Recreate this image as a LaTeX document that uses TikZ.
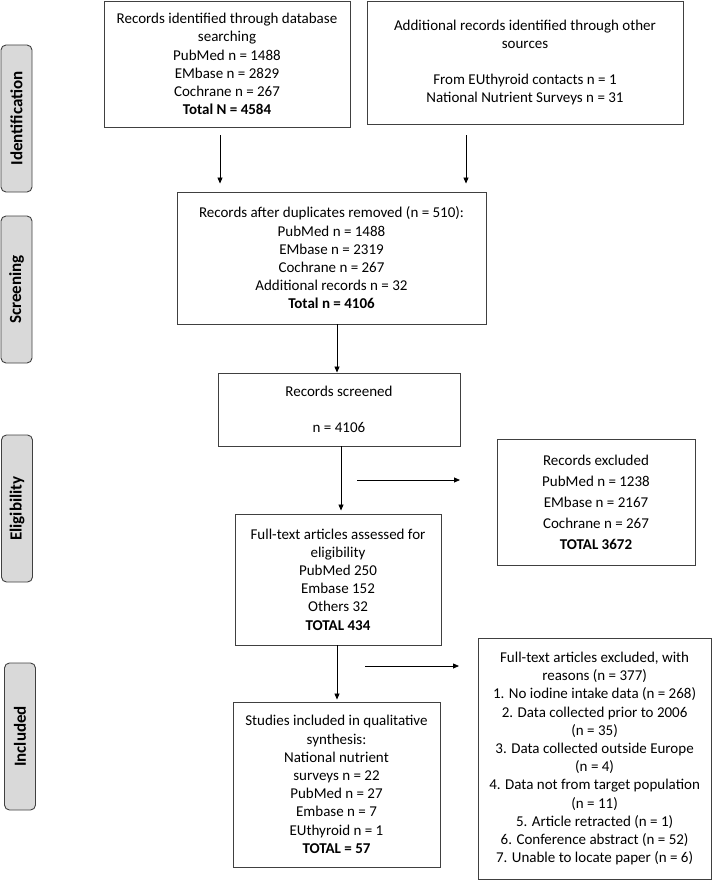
\documentclass[tikz,border=0pt]{standalone}
\usepackage{fontspec}
\setmainfont{Carlito}
\usetikzlibrary{arrows.meta}
\begin{document}
\begin{tikzpicture}[x=1pt,y=-1pt,
  box/.style={draw=black!75, line width=0.9pt, align=center, inner sep=0pt,
    font=\fontsize{15}{18.2}\selectfont},
  side/.style={draw=black!75, line width=0.9pt, fill=black!15, rounded corners=5pt,
    rotate=90, minimum height=31pt, minimum width=147pt, inner sep=0pt,
    font=\fontsize{17}{18}\selectfont\bfseries},
  arr/.style={-{Triangle[length=6pt,width=5pt]}, line width=0.8pt}]
\useasboundingbox (0,0) rectangle (712,880);

% side labels
\node[side] (sid) at (16.5,118.5) {Identification};
\node[side] (sscr) at (16.5,289.5) {Screening};
\node[side] (selig) at (17,508.5) {Eligibility};
\node[side] (sinc) at (20,736.5) {Included};

% boxes
\node[box, minimum width=246pt, minimum height=126pt] (b1) at (227,64)
  {Records identified through database\\searching\\PubMed n = 1488\\EMbase n = 2829\\Cochrane n = 267\\\textbf{Total N = 4584}};
\node[box, minimum width=316pt, minimum height=123pt] (b2) at (525,62.5)
  {Additional records identified through other\\sources\\[18pt]From EUthyroid contacts n = 1\\National Nutrient Surveys n = 31};
\node[box, minimum width=309pt, minimum height=132pt] (b3) at (331.5,258)
  {Records after duplicates removed (n = 510):\\PubMed n = 1488\\EMbase n = 2319\\Cochrane n = 267\\Additional records n = 32\\\textbf{Total n = 4106}};
\node[box, minimum width=242pt, minimum height=73pt] (b4) at (339,409.5)
  {Records screened\\[18pt]n = 4106};
\node[box, minimum width=198pt, minimum height=126pt, font=\fontsize{15}{21}\selectfont] (b5) at (596,502)
  {Records excluded\\PubMed n = 1238\\EMbase n = 2167\\Cochrane n = 267\\\textbf{TOTAL 3672}};
\node[box, minimum width=206pt, minimum height=131pt] (b6) at (338,579.5)
  {Full-text articles assessed for\\eligibility\\PubMed 250\\Embase 152\\Others 32\\\textbf{TOTAL 434}};
\node[box, minimum width=233pt, minimum height=241pt] (b7) at (594.6,758.6)
  {Full-text articles excluded, with\\reasons (n = 377)\\1. No iodine intake data (n = 268)\\2. Data collected prior to 2006\\(n = 35)\\3. Data collected outside Europe\\(n = 4)\\4. Data not from target population\\(n = 11)\\5. Article retracted (n = 1)\\6. Conference abstract (n = 52)\\7. Unable to locate paper (n = 6)};
\node[box, minimum width=207pt, minimum height=165pt] (b8) at (336.5,784.5)
  {Studies included in qualitative\\synthesis:\\National nutrient\\surveys n = 22\\PubMed n = 27\\Embase n = 7\\EUthyroid n = 1\\\textbf{TOTAL = 57}};

% connectors
\draw[arr, shorten <=8pt, shorten >=8pt] ([xshift=-7pt]b1.south) -- ([xshift=-7pt]b1.south |- b3.north);
\draw[arr, shorten <=11pt, shorten >=8pt] ([xshift=-59pt]b2.south) -- ([xshift=-59pt]b2.south |- b3.north);
\draw[arr] ([xshift=5.5pt]b3.south) -- ([xshift=5.5pt]b3.south |- b4.north);
\draw[arr, shorten >=3pt] ([xshift=2pt]b4.south) -- ([xshift=2pt]b4.south |- b6.north);
\draw[arr, shorten >=2pt] ([xshift=-1pt]b6.south) -- ([xshift=-1pt]b6.south |- b8.north);
\coordinate (r1s) at (357,480);
\coordinate (r1e) at (460,480);
\draw[arr] (r1s) -- (r1e);
\coordinate (r2s) at (365,666);
\coordinate (r2e) at (459,666);
\draw[arr] (r2s) -- (r2e);
\end{tikzpicture}
\end{document}
